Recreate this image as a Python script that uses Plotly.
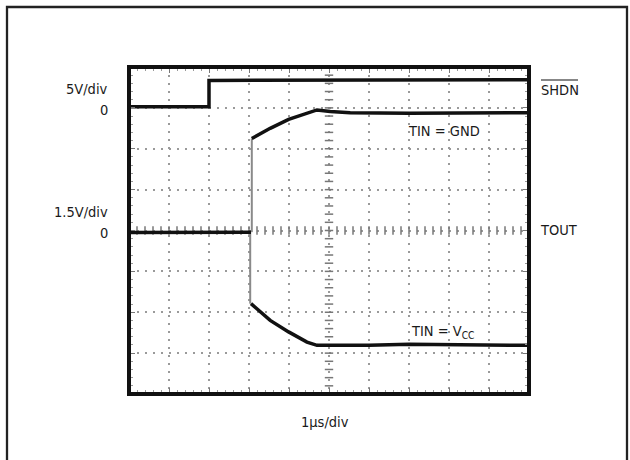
import numpy as np
import plotly.graph_objects as go

# ---- data (oscilloscope divisions: x 0..10, y 0..8) ----
shdn_x = [0, 2.0, 2.0, 10]
shdn_y = [7.03, 7.03, 7.67, 7.69]

tout_base_x = [0, 3.05]
tout_base_y = [3.95, 3.96]

gnd_edge_x = [3.07, 3.07]
gnd_edge_y = [3.96, 6.25]
vcc_edge_x = [3.03, 3.03]
vcc_edge_y = [3.96, 2.21]

gnd_x = [3.07, 3.3, 3.53, 3.99, 4.45, 4.7, 5.03, 5.53, 7.0, 8.5, 10]
gnd_y = [6.25, 6.38, 6.50, 6.72, 6.88, 6.95, 6.91, 6.88, 6.87, 6.88, 6.88]

vcc_x = [3.05, 3.3, 3.53, 3.99, 4.45, 4.7, 5.0, 6.0, 7.0, 8.5, 10]
vcc_y = [2.21, 2.0, 1.80, 1.52, 1.27, 1.19, 1.19, 1.19, 1.22, 1.20, 1.19]

left_labels = ["5V/div", "0", "1.5V/div", "0"]
right_labels = ["SHDN", "TOUT"]
trace_labels = ["TIN = GND", "TIN = V<sub>CC</sub>"]
x_label = "1µs/div"

FONT = "DejaVu Sans Condensed, Liberation Sans Narrow, sans-serif"
INK = "#111111"

W, H = 630, 460
L, R, T, B = 129, 101, 67, 66
PW, PH = W - L - R, H - T - B


def px(x):
    return (x - L) / PW


def py(y):
    return (H - B - y) / PH


fig = go.Figure()

# graticule center-line ticks
cy = np.arange(0, 8.001, 0.2)
cx = np.arange(0, 10.001, 0.2)
fig.add_trace(go.Scatter(x=[5] * len(cy), y=cy, mode="markers",
                         marker=dict(symbol="line-ew", size=6,
                                     line=dict(width=1.5, color="#777")),
                         hoverinfo="skip", showlegend=False))
fig.add_trace(go.Scatter(x=cx, y=[4] * len(cx), mode="markers",
                         marker=dict(symbol="line-ns", size=6,
                                     line=dict(width=1.5, color="#777")),
                         hoverinfo="skip", showlegend=False))

# fast edges (faint)
for ex, ey in [(gnd_edge_x, gnd_edge_y), (vcc_edge_x, vcc_edge_y)]:
    fig.add_trace(go.Scatter(x=ex, y=ey, mode="lines",
                             line=dict(color="#8a8a8a", width=2),
                             hoverinfo="skip", showlegend=False))

# main traces
for tx, ty in [(shdn_x, shdn_y), (tout_base_x, tout_base_y),
               (gnd_x, gnd_y), (vcc_x, vcc_y)]:
    fig.add_trace(go.Scatter(x=tx, y=ty, mode="lines",
                             line=dict(color=INK, width=3.5),
                             hoverinfo="skip", showlegend=False))

axis_common = dict(showline=False, zeroline=False, showticklabels=False,
                   showgrid=True, gridcolor="#9a9a9a", gridwidth=1.5,
                   griddash="2px,6px",
                   ticks="inside", ticklen=6, tickcolor="#777", tickwidth=1,
                   mirror="ticks",
                   minor=dict(ticks="inside", ticklen=4, tickcolor="#999",
                              dtick=0.2, showgrid=False))

fig.update_xaxes(range=[0, 10], dtick=1, tick0=0, **axis_common)
fig.update_yaxes(range=[0, 8], dtick=1, tick0=0, **axis_common)

shapes = [
    # scope frame
    dict(type="rect", xref="paper", yref="paper", x0=0, x1=1, y0=0, y1=1,
         line=dict(color=INK, width=4), layer="above"),
    # outer border
    dict(type="rect", xref="paper", yref="paper",
         x0=px(7), x1=px(627), y0=py(7), y1=py(480),
         line=dict(color="#222", width=2.3), layer="above"),
    # overline of SHDN
    dict(type="line", xref="paper", yref="paper",
         x0=px(541), x1=px(578), y0=py(80), y1=py(80),
         line=dict(color=INK, width=1.2)),
]

ann = []
f = dict(family=FONT, size=14.5, color="#1a1a1a")
for txt, yy in zip(left_labels, [89, 110, 212, 233]):
    ann.append(dict(text=txt, x=px(110), y=py(yy), xanchor="right",
                    yanchor="middle", showarrow=False, font=f,
                    xref="paper", yref="paper"))
for txt, xx, yy in zip(right_labels, [539, 538], [90, 230]):
    ann.append(dict(text=txt, x=px(xx), y=py(yy), xanchor="left",
                    yanchor="middle", showarrow=False, font=f,
                    xref="paper", yref="paper"))
for txt, xx, yy in zip(trace_labels, [406, 409], [131, 332]):
    ann.append(dict(text=txt, x=px(xx), y=py(yy), xanchor="left",
                    yanchor="middle", showarrow=False, font=f,
                    xref="paper", yref="paper"))
ann.append(dict(text=x_label, x=px(325), y=py(422), xanchor="center",
                yanchor="middle", showarrow=False, font=f,
                xref="paper", yref="paper"))

fig.update_layout(width=W, height=H,
                  margin=dict(l=L, r=R, t=T, b=B, pad=0),
                  paper_bgcolor="white", plot_bgcolor="white",
                  shapes=shapes, annotations=ann, showlegend=False)

fig.write_html("out.html", config={"displayModeBar": False},
               post_script="document.body.style.margin='0';"
                           "document.body.style.padding='0';")
